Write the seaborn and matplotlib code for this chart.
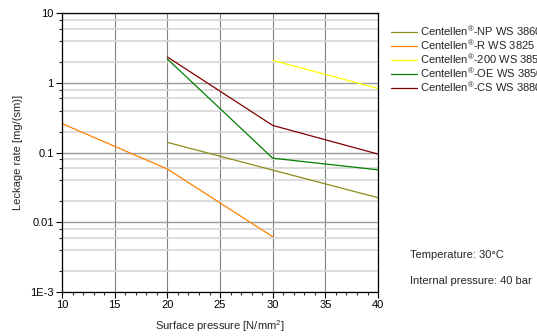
import numpy as np
import pandas as pd
import matplotlib
matplotlib.use("Agg")
import matplotlib.pyplot as plt
import matplotlib.ticker as mticker
import seaborn as sns

# Data
x_np = [20, 30, 40]
y_np = [0.14, 0.056, 0.0225]
x_r = [10, 20, 30]
y_r = [0.26, 0.058, 0.0062]
x_200 = [30, 40]
y_200 = [2.1, 0.83]
x_oe = [20, 30, 40]
y_oe = [2.2, 0.083, 0.0565]
x_cs = [20, 30, 40]
y_cs = [2.35, 0.245, 0.095]

labels = ["Centellen$^{®}$-NP WS 3860", "Centellen$^{®}$-R WS 3825",
          "Centellen$^{®}$-200 WS 3851", "Centellen$^{®}$-OE WS 3850",
          "Centellen$^{®}$-CS WS 3880"]
colors = ["#8c8c1a", "#ff8000", "#ffff00", "#008000", "#800000"]

frames = []
for lab, xs, ys in zip(labels, [x_np, x_r, x_200, x_oe, x_cs],
                       [y_np, y_r, y_200, y_oe, y_cs]):
    frames.append(pd.DataFrame({"x": xs, "y": ys, "series": lab}))
df = pd.concat(frames, ignore_index=True)

sns.set_style("white")
plt.rcParams['font.family'] = ['Liberation Sans', 'DejaVu Sans']
plt.rcParams['mathtext.fontset'] = 'custom'
plt.rcParams['mathtext.rm'] = 'Liberation Sans'
plt.rcParams['mathtext.it'] = 'Liberation Sans'
plt.rcParams['mathtext.default'] = 'regular'

fig = plt.figure(figsize=(5.37, 3.36), dpi=100)
ax = fig.add_axes([0.1155, 0.131, 0.5885, 0.830])

sns.lineplot(data=df, x="x", y="y", hue="series", hue_order=labels,
             palette=dict(zip(labels, colors)), linewidth=0.9,
             estimator=None, sort=False, ax=ax, legend=False)

ax.set_yscale("log")
ax.set_xlim(10, 40)
ax.set_ylim(1e-3, 10)
ax.xaxis.set_major_locator(mticker.MultipleLocator(5))
ax.xaxis.set_minor_locator(mticker.MultipleLocator(1))
ax.yaxis.set_minor_locator(mticker.LogLocator(base=10, subs=(2, 4, 6, 8), numticks=10))
ax.yaxis.set_minor_formatter(mticker.NullFormatter())
ax.set_yticks([1e-3, 1e-2, 1e-1, 1, 10])
ax.set_yticklabels(["1E-3", "0.01", "0.1", "1", "10"])

ax.grid(which="major", axis="x", color="#808080", linewidth=0.8)
ax.grid(which="major", axis="y", color="#9a9a9a", linewidth=1.0)
ax.grid(which="minor", axis="y", color="#d6d6d6", linewidth=1.2)
ax.set_axisbelow(True)
for s in ax.spines.values():
    s.set_color("black")
    s.set_linewidth(0.9)

ax.tick_params(which="major", direction="out", length=4, width=0.8,
               labelsize=8, colors="black", left=True, bottom=True, pad=2)
ax.tick_params(which="minor", direction="out", length=2.5, width=0.8,
               left=True, bottom=True)

ax.set_xlabel("Surface pressure [N/mm$^{2}$]", fontsize=8, labelpad=6)
ax.set_ylabel("Leckage rate [mg/(sm)]", fontsize=8, labelpad=5)

# legend runs past the right edge, as in the original
handles = [plt.Line2D([], [], color=c, linewidth=0.9) for c in colors]
fig.legend(handles, labels, loc="upper left", bbox_to_anchor=(0.728, 0.928),
           frameon=False, fontsize=8, handlelength=2.35, handletextpad=0.3,
           labelspacing=0.0, borderaxespad=0, borderpad=0)

fig.text(0.763, 0.240, "Temperature: 30°C", fontsize=8, va="center")
fig.text(0.763, 0.165, "Internal pressure: 40 bar", fontsize=8, va="center")

fig.savefig("out.png", dpi=100)
